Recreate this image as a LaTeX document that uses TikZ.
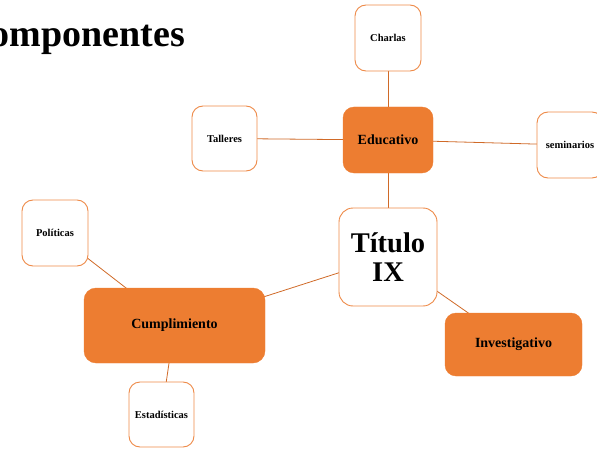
\documentclass[tikz,border=0pt]{standalone}
\usepackage{fontspec}
\setmainfont{Liberation Serif}
\usetikzlibrary{backgrounds}
\definecolor{accent}{HTML}{ED7D31}
\definecolor{linecol}{HTML}{D06A28}
\definecolor{boxline}{HTML}{EE8A48}
\begin{document}
\begin{tikzpicture}[x=1pt,y=1pt,
  leaf/.style={draw=boxline, line width=0.9pt, fill=white, rounded corners=11pt,
    minimum width=66pt, minimum height=66pt, inner sep=0pt,
    font=\fontsize{10.5}{12}\selectfont\bfseries},
  hub/.style={draw=accent, fill=accent, rounded corners=11pt, inner sep=0pt,
    font=\fontsize{14}{16}\selectfont\bfseries},
  conn/.style={draw=linecol, line width=0.8pt}]
\useasboundingbox (0,0) rectangle (597,448);
\node[anchor=base east, inner sep=0pt, font=\fontsize{38}{40}\selectfont\bfseries] (title) at (185,401.3) {omponentes};
% nodes (x, 448 - y)
\node[leaf] (charlas) at (388,410) {Charlas};
\node[hub, minimum width=90pt, minimum height=66pt] (educ) at (388,308) {Educativo};
\node[leaf, minimum width=65pt, minimum height=65pt] (talleres) at (224.5,309.5) {Talleres};
\node[leaf] (semi) at (570,303) {seminarios};
\node[leaf, minimum width=98pt, minimum height=98pt, rounded corners=14pt, align=center,
  font=\fontsize{28.5}{28.5}\selectfont\bfseries] (titulo) at (388,191) {Título\\IX};
\node[hub, minimum width=137pt, minimum height=63pt] (inv) at (513.5,103.5) {Investigativo};
\node[hub, minimum width=181pt, minimum height=75pt, rounded corners=12pt] (cump) at (174.5,122.5) {Cumplimiento};
\node[leaf] (pol) at (55,215) {Políticas};
\node[leaf, minimum width=65pt, minimum height=65pt] (esta) at (161.5,33.5) {Estadísticas};
\begin{pgfonlayer}{background}
\draw[conn] (charlas.center) -- (educ.center);
\draw[conn] (talleres.center) -- (educ.center);
\draw[conn] (educ.center) -- (semi.center);
\draw[conn] (educ.center) -- (titulo.center);
\draw[conn] (titulo.center) -- (inv.center);
\draw[conn] (titulo.center) -- (cump.center);
\draw[conn] (pol.center) -- (cump.center);
\draw[conn] (cump.center) -- (esta.center);
\end{pgfonlayer}
\end{tikzpicture}
\end{document}
